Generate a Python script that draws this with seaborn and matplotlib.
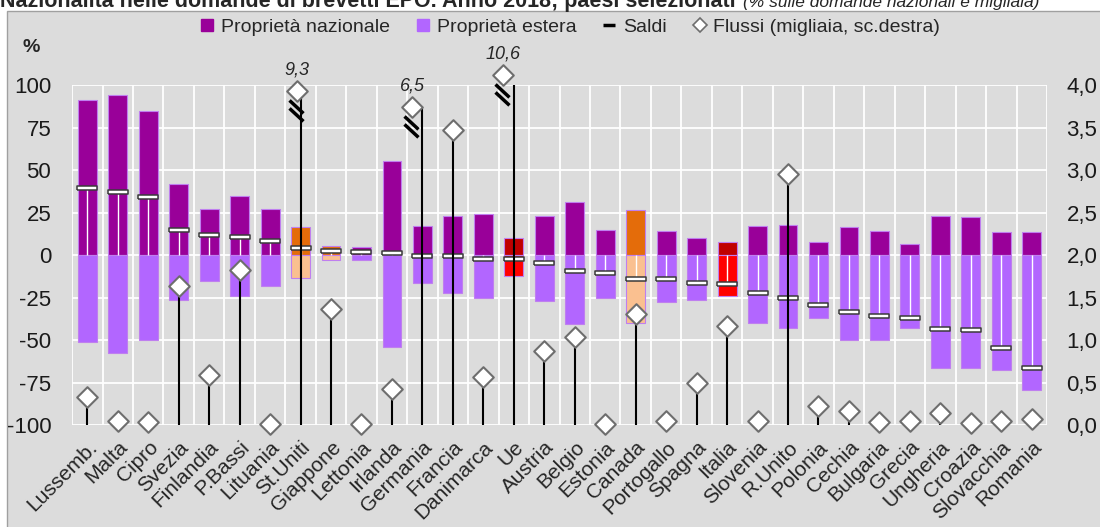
import matplotlib
matplotlib.use("Agg")
import matplotlib.pyplot as plt
from matplotlib.lines import Line2D
from matplotlib.patches import Rectangle
from matplotlib.path import Path
import numpy as np
import pandas as pd
import seaborn as sns


COUNTRIES = ["Lussemb.", "Malta", "Cipro", "Svezia", "Finlandia", "P.Bassi", "Lituania",
             "St.Uniti", "Giappone", "Lettonia", "Irlanda", "Germania", "Francia",
             "Danimarca", "Ue", "Austria", "Belgio", "Estonia", "Canada", "Portogallo",
             "Spagna", "Italia", "Slovenia", "R.Unito", "Polonia", "Cechia", "Bulgaria",
             "Grecia", "Ungheria", "Croazia", "Slovacchia", "Romania"]
NAZIONALE = [91, 94, 84.7, 42, 27, 35, 27, 16.7, 5.3, 4.9, 55.5, 17, 23, 24, 10.2, 23,
             31.4, 14.7, 26.5, 13.9, 10.2, 7.8, 17, 17.8, 7.8, 16.3, 13.9, 6.5, 23, 22.4,
             13.3, 13.3]
ESTERA = [-51.4, -57.5, -49.8, -26.5, -15, -24, -18, -13.3, -3, -3, -54.3, -16.7, -22.5,
          -25, -12.4, -27, -40.6, -25, -40.2, -27.8, -26.5, -23.9, -39.8, -43, -37, -49.8,
          -49.8, -43, -66.3, -66.3, -67.8, -79.4]
SALDI = [39.6, 37, 34, 15, 11.5, 10.8, 8.4, 3.9, 2.5, 2, 1, -0.3, -0.5, -2.2, -2.4, -4.5,
         -9.6, -10.4, -14.1, -14.1, -16.3, -17, -22.4, -25.5, -29.2, -33.7, -35.9, -36.9,
         -43.5, -44.3, -54.7, -66.3]
# migliaia, scala destra
FLUSSI = [0.33, 0.05, 0.04, 1.63, 0.59, 1.82, 0.01, 9.3, 1.36, 0.01, 0.42, 6.5, 3.47,
          0.56, 10.6, 0.87, 1.04, 0.01, 1.31, 0.05, 0.5, 1.16, 0.05, 2.95, 0.22, 0.17,
          0.03, 0.05, 0.14, 0.02, 0.05, 0.07]
# off-scale values: where the diamond is drawn on the right axis
FUORI_SCALA = {"St.Uniti": 3.93, "Germania": 3.74, "Ue": 4.12}
ARANCIO = ["St.Uniti", "Giappone", "Canada"]
ROSSO = ["Ue", "Italia"]

VIOLA, LILLA = "#990099", "#B266FF"
ARANCIO_SC, ARANCIO_CH = "#E46C0A", "#FAC090"
ROSSO_SC, ROSSO_CH = "#C00000", "#FF0000"
SFONDO = "#DCDCDC"


def main():
    sns.set_style("darkgrid", {"axes.facecolor": SFONDO, "grid.color": "white"})
    plt.rcParams["font.family"] = ["Liberation Sans Narrow", "Liberation Sans", "DejaVu Sans"]

    df = pd.DataFrame({"paese": COUNTRIES, "naz": NAZIONALE, "est": ESTERA,
                       "saldo": SALDI, "flussi": FLUSSI})
    df["x"] = np.arange(len(df))
    pal_naz, pal_est = {}, {}
    for c in COUNTRIES:
        if c in ARANCIO:
            pal_naz[c], pal_est[c] = ARANCIO_SC, ARANCIO_CH
        elif c in ROSSO:
            pal_naz[c], pal_est[c] = ROSSO_SC, ROSSO_CH
        else:
            pal_naz[c], pal_est[c] = VIOLA, LILLA

    fig, ax = plt.subplots(figsize=(11, 5.27), dpi=100)
    fig.patch.set_facecolor("white")
    fig.subplots_adjust(left=0.0655, right=0.9518, bottom=0.1935, top=0.8387)
    fig.patches.append(Rectangle((7 / 1100, -0.01), 1.0, 1 - 11 / 527 + 0.01,
                                 transform=fig.transFigure, facecolor=SFONDO,
                                 edgecolor="#A0A0A0", lw=1, zorder=-10))

    for col, pal in (("naz", pal_naz), ("est", pal_est)):
        sns.barplot(data=df, x="paese", y=col, hue="paese", palette=pal, legend=False,
                    width=0.62, saturation=1, edgecolor="#BF7FEF", linewidth=0.8, ax=ax)

    # saldi: thin white line from zero + boxed dash
    ax.vlines(df["x"], 0, df["saldo"], color="white", lw=1, zorder=4)
    dash = [(-1, -0.2), (1, -0.2), (1, 0.2), (-1, 0.2), (-1, -0.2)]
    ax.scatter(df["x"], df["saldo"], marker=dash, s=190, facecolor="white",
               edgecolor="#3A3A3A", linewidth=1.1, zorder=5)

    ax.set_xlim(-0.5, len(df) - 0.5)
    ax.set_ylim(-100, 100)
    ax.set_yticks(range(-100, 101, 25))
    ax.set_yticklabels([str(v) for v in range(-100, 101, 25)])
    ax.set_xticks(np.arange(-0.5, len(df), 1), minor=True)
    ax.grid(which="major", axis="x", visible=False)
    ax.grid(which="minor", axis="x", color="white", lw=1.3)
    ax.grid(which="major", axis="y", color="white", lw=1.3)
    ax.set_xlabel("")
    ax.set_ylabel("")
    for s in ax.spines.values():
        s.set_visible(False)
    ax.tick_params(axis="both", which="both", length=0)
    ax.tick_params(axis="y", labelsize=16, pad=15, colors="#1A1A1A")
    ax.set_xticks(df["x"])
    ax.set_xticklabels(COUNTRIES, rotation=45, ha="right", va="top",
                       rotation_mode="anchor", fontsize=15)
    ax.tick_params(axis="x", pad=9)

    # flussi on the right scale
    ax2 = ax.twinx()
    ax2.set_ylim(0, 4)
    ax2.grid(False)
    ax2.patch.set_visible(False)
    for s in ax2.spines.values():
        s.set_visible(False)
    ax2.set_yticks(np.arange(0, 4.01, 0.5))
    ax2.set_yticklabels([f"{v:.1f}".replace(".", ",") for v in np.arange(0, 4.01, 0.5)])
    ax2.tick_params(axis="y", length=0, labelsize=16, pad=14, colors="#1A1A1A")

    shift = {"St.Uniti": -0.13, "Germania": -0.33, "Ue": -0.36}
    df["fy"] = [FUORI_SCALA.get(p, f) for p, f in zip(df["paese"], df["flussi"])]
    df["fx"] = [x + shift.get(p, 0) for p, x in zip(df["paese"], df["x"])]
    ax2.vlines(df["x"], 0, df["fy"], color="black", lw=1.5, zorder=3)
    sns.scatterplot(data=df, x="fx", y="fy", marker="D", s=110, color="white",
                    edgecolor="#6E6E6E", linewidth=1.5, ax=ax2, clip_on=False, zorder=6)

    brk = Path([(-8, -9), (6, -22), (-8, -17), (6, -30)],
               [Path.MOVETO, Path.LINETO, Path.MOVETO, Path.LINETO])
    fuori = df[df["paese"].isin(FUORI_SCALA.keys())]
    ax2.plot(fuori["fx"], fuori["fy"], linestyle="none", marker=brk, markersize=43,
             markeredgewidth=2.5, color="black", fillstyle="none", clip_on=False, zorder=5)
    for _, r in fuori.iterrows():
        ax2.annotate(f"{r['flussi']:.1f}".replace(".", ","), (r["fx"], r["fy"]),
                     xytext=(0, 9), textcoords="offset points", ha="center", va="bottom",
                     fontsize=13, fontstyle="italic", annotation_clip=False)
    ax2.set_xlabel("")
    ax2.set_ylabel("")

    fig.text(31 / 1100, 1 - 48 / 527, "%", fontsize=14, fontweight="bold",
             ha="center", va="center")

    handles = [
        Line2D([], [], linestyle="none", marker="s", markersize=9, color=VIOLA),
        Line2D([], [], linestyle="none", marker="s", markersize=9, color=LILLA),
        Line2D([], [], linestyle="none", marker="_", markersize=9, markeredgewidth=2.5,
               color="black"),
        Line2D([], [], linestyle="none", marker="D", markersize=7, markerfacecolor="white",
               markeredgecolor="#6E6E6E", markeredgewidth=1.2),
    ]
    labels = ["Proprietà nazionale", "Proprietà estera", "Saldi",
              "Flussi (migliaia, sc.destra)"]
    fig.legend(handles, labels, loc="center", bbox_to_anchor=(0.518, 0.949), ncol=4,
               frameon=False, fontsize=14, handlelength=0.8, handletextpad=0.3,
               columnspacing=1.3)

    # title, cut at the top edge as in the source
    t1 = fig.text(0.0, 1 - 7 / 527, "Nazionalità nelle domande di brevetti EPO. Anno 2018; "
                  "paesi selezionati", fontsize=15.5, fontweight="bold", va="baseline")
    fig.canvas.draw()
    bb = t1.get_window_extent()
    fig.text(bb.x1 / fig.bbox.width + 0.007, 1 - 7 / 527,
             "(% sulle domande nazionali e migliaia)", fontsize=12.5, fontstyle="italic",
             va="baseline")

    plt.savefig("out.png", dpi=100, facecolor=fig.get_facecolor())
    plt.close()


if __name__ == "__main__":
    main()
